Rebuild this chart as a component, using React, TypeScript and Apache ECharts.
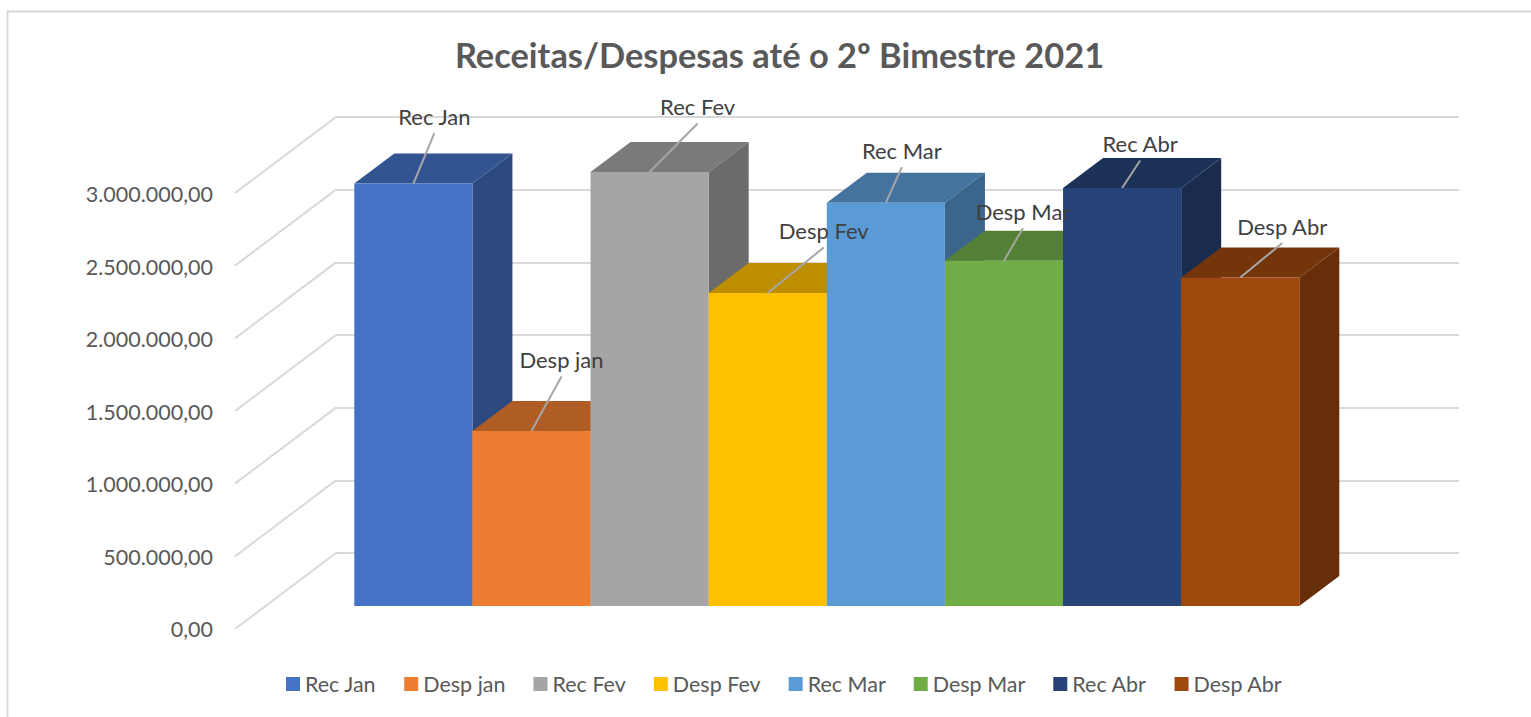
import React, { useEffect, useRef } from "react";
import * as echarts from "echarts";

const categories = ["Rec Jan", "Desp jan", "Rec Fev", "Desp Fev", "Rec Mar", "Desp Mar", "Rec Abr", "Desp Abr"];
const values = [2907000, 1204000, 2986000, 2154000, 2775000, 2376000, 2876000, 2260000];
const colors = ["#4472C4", "#ED7D31", "#A5A5A5", "#FFC000", "#5B9BD5", "#70AD47", "#264478", "#9E480E"];
const axisTicks = [0, 500000, 1000000, 1500000, 2000000, 2500000, 3000000];
const labelOffsets = [[21, -66], [30, -70], [48, -64], [56, -61], [16, -51], [19, -48], [18, -43], [42, -50]];
const titleText = "Receitas/Despesas até o 2º Bimestre 2021";

const FONT = "Lato, sans-serif";
const DEPTH_X = 40;
const DEPTH_Y = -30;
const WALL_X = -101;
const WALL_Y = 76;

function shade(hex: string, k: number) {
  const n = parseInt(hex.slice(1), 16);
  const c = [(n >> 16) & 255, (n >> 8) & 255, n & 255].map((v) => Math.round(v * k));
  return `rgb(${c[0]},${c[1]},${c[2]})`;
}

function formatPt(v: number) {
  return v.toLocaleString("pt-BR", { minimumFractionDigits: 2, maximumFractionDigits: 2 });
}

export default function App() {
  const ref = useRef<HTMLDivElement>(null);
  useEffect(() => {
    document.body.style.margin = "0";
    document.body.style.overflow = "hidden";
    const chart = echarts.init(ref.current!, undefined, { renderer: "svg" });

    const barSeries = categories.map((name, i) => ({
      type: "custom",
      name,
      xAxisIndex: 2,
      yAxisIndex: 2,
      z: 10 + i,
      itemStyle: { color: colors[i] },
      encode: { x: 0, y: 1 },
      data: [[i, values[i]]],
      renderItem: (_p: any, api: any) => {
        const idx = api.value(0);
        const top = api.coord([idx, api.value(1)]);
        const base = api.coord([idx, 0]);
        const w = api.size([1, 0])[0];
        const x0 = top[0] - w / 2;
        const x1 = top[0] + w / 2;
        const y0 = top[1];
        const y1 = base[1];
        return {
          type: "group",
          children: [
            { type: "polygon", shape: { points: [[x0, y0], [x1, y0], [x1 + DEPTH_X, y0 + DEPTH_Y], [x0 + DEPTH_X, y0 + DEPTH_Y]] }, style: { fill: shade(colors[i], 0.74) } },
            { type: "polygon", shape: { points: [[x1, y0], [x1 + DEPTH_X, y0 + DEPTH_Y], [x1 + DEPTH_X, y1 + DEPTH_Y], [x1, y1]] }, style: { fill: shade(colors[i], 0.65) } },
            { type: "rect", shape: { x: x0, y: y0, width: w, height: y1 - y0 }, style: { fill: colors[i] } },
          ],
        };
      },
    }));

    const labelSeries = {
      type: "custom",
      name: "labels",
      xAxisIndex: 2,
      yAxisIndex: 2,
      z: 50,
      silent: true,
      data: values.map((v, i) => [i, v]),
      renderItem: (params: any, api: any) => {
        const i = params.dataIndex;
        const top = api.coord([api.value(0), api.value(1)]);
        const [dx, dy] = labelOffsets[i];
        const tx = top[0] + dx;
        const ty = top[1] + dy - 1.5;
        return {
          type: "group",
          children: [
            { type: "line", shape: { x1: top[0], y1: top[1], x2: tx, y2: ty + 17 }, style: { stroke: "#A6A6A6", lineWidth: 2 } },
            { type: "text", x: tx, y: ty, style: { text: categories[i], fill: "#404040", font: `22px ${FONT}`, align: "center", verticalAlign: "middle" } },
          ],
        };
      },
    };

    const wallDiagonals = {
      type: "custom",
      name: "walls",
      xAxisIndex: 0,
      yAxisIndex: 0,
      z: 1,
      silent: true,
      data: axisTicks.map((t) => [0, t]),
      renderItem: (_p: any, api: any) => {
        const p = api.coord([api.value(0), api.value(1)]);
        return { type: "line", shape: { x1: p[0], y1: p[1], x2: p[0] + WALL_X, y2: p[1] + WALL_Y }, style: { stroke: "#D9D9D9", lineWidth: 2 } };
      },
    };

    chart.setOption({
      animation: false,
      backgroundColor: "#fff",
      textStyle: { fontFamily: FONT },
      title: {
        text: titleText,
        left: 774.5,
        textAlign: "center",
        top: 32,
        textStyle: { fontFamily: FONT, fontWeight: "bold", fontSize: 34.4, color: "#595959" },
      },
      legend: {
        data: categories,
        left: 281,
        top: 668,
        itemWidth: 14,
        itemHeight: 14,
        itemGap: 28,
        icon: "rect",
        textStyle: { fontFamily: FONT, fontSize: 21.5, color: "#595959" },
      },
      graphic: [
        { type: "rect", z: 0, shape: { x: 7.5, y: 11.5, width: 1560, height: 760 }, style: { fill: "none", stroke: "#D9D9D9", lineWidth: 2 } },
      ],
      grid: [
        { left: 336, width: 1123, top: 117, height: 436 },
        { left: 235, width: 100, top: 194, height: 435 },
        { left: 354.3, width: 945, top: 170, height: 436 },
      ],
      xAxis: [
        { type: "value", gridIndex: 0, min: 0, max: 1, show: false },
        { type: "value", gridIndex: 1, min: 0, max: 1, show: false },
        { type: "category", gridIndex: 2, data: categories, show: false },
      ],
      yAxis: [
        {
          type: "value", gridIndex: 0, min: 0, max: 3000000, interval: 500000,
          axisLine: { show: false }, axisTick: { show: false }, axisLabel: { show: false },
          splitLine: { show: true, lineStyle: { color: "#D9D9D9", width: 2 } },
        },
        {
          type: "value", gridIndex: 1, min: 0, max: 3000000, interval: 500000,
          axisLine: { show: false }, axisTick: { show: false }, splitLine: { show: false },
          axisLabel: { show: true, margin: 22, fontFamily: FONT, fontSize: 21.5, color: "#595959", formatter: (v: number) => formatPt(v) },
        },
        { type: "value", gridIndex: 2, min: 0, max: 3000000, show: false },
      ],
      series: [wallDiagonals, ...barSeries, labelSeries],
    });
    return () => chart.dispose();
  }, []);
  return <div ref={ref} style={{ width: 1531, height: 717 }} />;
}
